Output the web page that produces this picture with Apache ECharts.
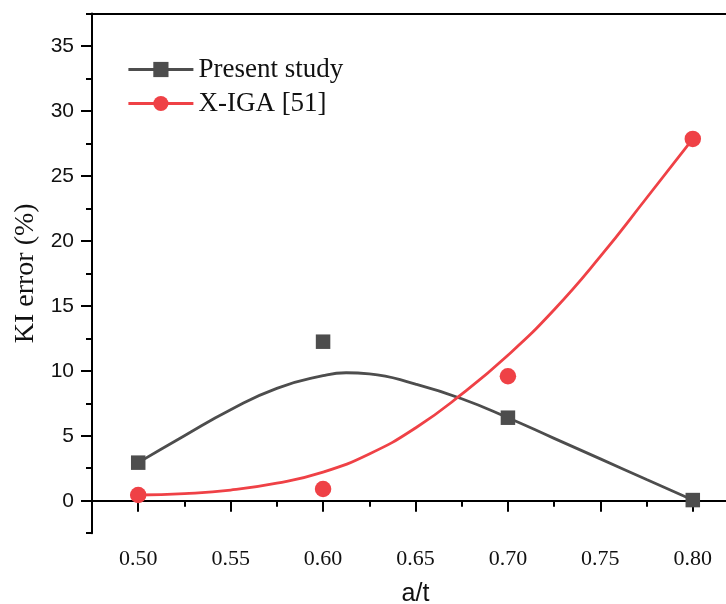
<!DOCTYPE html>
<html>
<head>
<meta charset="utf-8">
<script src="https://cdn.jsdelivr.net/npm/echarts@6/dist/echarts.min.js"></script>
<style>
  html, body { margin: 0; padding: 0; background: #fff; }
  #main { width: 726px; height: 604px; }
</style>
</head>
<body>
<div id="main"></div>
<script>
// data
var ratios = [0.50, 0.60, 0.70, 0.80];
var presentStudy = [2.93, 12.24, 6.39, 0.05];
var xiga = [0.44, 0.90, 9.58, 27.85];

// fitted curves as drawn in the figure
var fitPresentX = [0.500, 0.525, 0.550, 0.575, 0.600, 0.6125, 0.625, 0.650, 0.675, 0.700, 0.725, 0.750, 0.775, 0.800];
var fitPresent = [2.93, 5.0, 7.0, 8.65, 9.62, 9.85, 9.77, 8.97, 7.85, 6.39, 4.8, 3.22, 1.63, 0.05];
var fitXigaX = [0.500, 0.525, 0.550, 0.575, 0.600, 0.625, 0.650, 0.675, 0.700, 0.725, 0.750, 0.775, 0.800];
var fitXiga = [0.44, 0.55, 0.82, 1.35, 2.2, 3.6, 5.6, 8.2, 11.2, 14.7, 18.8, 23.3, 27.85];

// ticks
var xMajor = [0.50, 0.55, 0.60, 0.65, 0.70, 0.75, 0.80];
var xMinor = [0.475, 0.525, 0.575, 0.625, 0.675, 0.725, 0.775, 0.825];
var yMajor = [0, 5, 10, 15, 20, 25, 30, 35];
var yMinor = [-2.5, 2.5, 7.5, 12.5, 17.5, 22.5, 27.5, 32.5, 37.5];

var names = ['Present study', 'X-IGA [51]'];
var grey = '#4d4d4d';
var red = '#ef4146';

function zip(a, b) {
    return a.map(function (v, i) { return [v, b[i]]; });
}

var option = {
    backgroundColor: '#fff',
    animation: false,
    grid: {
        left: 92,
        right: -13,
        top: 13.5,
        bottom: 70.8,
        outerBoundsMode: 'none'
    },
    legend: {
        data: names,
        orient: 'vertical',
        left: 122,
        top: 51,
        itemWidth: 65,
        itemHeight: 19,
        itemGap: 7,
        lineStyle: { width: 2.8 },
        textStyle: {
            fontFamily: 'Liberation Serif',
            fontSize: 27,
            color: '#111'
        }
    },
    xAxis: [
        {
            type: 'value',
            min: 0.475,
            max: 0.825,
            position: 'bottom',
            name: 'a/t',
            nameLocation: 'middle',
            nameGap: 48,
            nameTextStyle: { fontFamily: 'Liberation Sans', fontSize: 25, color: '#111' },
            splitLine: { show: false },
            axisLine: { show: true, lineStyle: { color: '#000', width: 2 } },
            axisTick: { show: true, inside: false, length: 11, customValues: xMajor, lineStyle: { color: '#000', width: 2 } },
            axisLabel: {
                customValues: xMajor,
                margin: 15,
                fontFamily: 'Liberation Serif',
                fontSize: 22,
                color: '#111',
                formatter: function (v) { return v.toFixed(2); }
            }
        },
        {
            // minor ticks
            type: 'value',
            min: 0.475,
            max: 0.825,
            position: 'bottom',
            splitLine: { show: false },
            axisLine: { show: false },
            axisLabel: { show: false },
            axisTick: { show: true, length: 6, customValues: xMinor, lineStyle: { color: '#000', width: 2 } }
        },
        {
            // top frame
            type: 'value',
            min: 0.475,
            max: 0.825,
            position: 'top',
            splitLine: { show: false },
            axisLine: { show: true, lineStyle: { color: '#000', width: 2 } },
            axisLabel: { show: false },
            axisTick: { show: false }
        }
    ],
    yAxis: [
        {
            type: 'value',
            min: -2.5,
            max: 37.5,
            position: 'left',
            name: 'KI error (%)',
            nameLocation: 'middle',
            nameGap: 43,
            nameTextStyle: { fontFamily: 'Liberation Serif', fontSize: 28, color: '#111' },
            splitLine: { show: false },
            axisLine: { show: true, lineStyle: { color: '#000', width: 2 } },
            axisTick: { show: true, length: 11, customValues: yMajor, lineStyle: { color: '#000', width: 2 } },
            axisLabel: {
                customValues: yMajor,
                margin: 18,
                fontFamily: 'Liberation Sans',
                fontSize: 21,
                color: '#111'
            }
        },
        {
            // minor ticks
            type: 'value',
            min: -2.5,
            max: 37.5,
            position: 'left',
            splitLine: { show: false },
            axisLine: { show: false },
            axisLabel: { show: false },
            axisTick: { show: true, length: 6, customValues: yMinor, lineStyle: { color: '#000', width: 2 } }
        }
    ],
    series: [
        {
            name: names[0],
            type: 'line',
            data: zip(fitPresentX, fitPresent),
            smooth: 0.5,
            showSymbol: false,
            symbol: 'rect',
            symbolSize: 14,
            itemStyle: { color: grey },
            lineStyle: { color: grey, width: 2.8 },
            z: 2
        },
        {
            name: names[1],
            type: 'line',
            data: zip(fitXigaX, fitXiga),
            smooth: 0.5,
            showSymbol: false,
            symbol: 'circle',
            symbolSize: 16,
            itemStyle: { color: red },
            lineStyle: { color: red, width: 2.8 },
            z: 2
        },
        {
            name: names[0],
            type: 'scatter',
            data: zip(ratios, presentStudy),
            symbol: 'rect',
            symbolSize: 14.5,
            itemStyle: { color: grey, opacity: 1 },
            z: 3
        },
        {
            name: names[1],
            type: 'scatter',
            data: zip(ratios, xiga),
            symbol: 'circle',
            symbolSize: 16.5,
            itemStyle: { color: red, opacity: 1 },
            z: 3
        }
    ]
};

var chartDom = document.getElementById('main');
var myChart = echarts.init(chartDom);
myChart.setOption(option);
</script>
</body>
</html>
